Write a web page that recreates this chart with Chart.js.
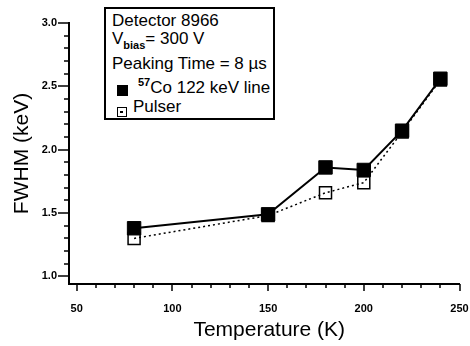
<!DOCTYPE html>
<html>
<head>
<meta charset="utf-8">
<script src="https://cdn.jsdelivr.net/npm/chart.js@4"></script>
<style>
  body { margin: 0; background: #fff; }
  #wrap { position: relative; width: 470px; height: 346px; font-family: Arial, 'Liberation Sans', sans-serif; color: #000; }
  #key { position: absolute; left: 104px; top: 7px; width: 167px; height: 109px; border: 2px solid #000; background: #fff; font-size: 17px; }
  #key .row { position: absolute; left: 6px; line-height: 20px; white-space: nowrap; }
  #key .sub { font-size: 11px; font-weight: bold; position: relative; top: 5px; }
  #key .sup { font-size: 11px; font-weight: bold; position: relative; top: -7px; }
  #key .mark { position: absolute; left: 11px; box-sizing: border-box; }
  #key .filled { top: 76px; width: 11px; height: 11px; background: #000; }
  #key .open { top: 98px; width: 10px; height: 10px; border: 1.5px solid #000; }
  #key .open::after { content: ''; position: absolute; left: 2px; top: 3px; width: 3px; height: 1.5px; background: #000; }
</style>
</head>
<body>
<div id="wrap">
  <canvas id="chart" width="470" height="346"></canvas>
  <div id="key">
    <div class="row" style="top: 2px;">Detector 8966</div>
    <div class="row" style="top: 20px;">V<span class="sub">bias</span>= 300 V</div>
    <div class="row" style="top: 45px;">Peaking Time = 8 µs</div>
    <span class="mark filled"></span>
    <div class="row" style="top: 69px; left: 32px;"><span class="sup">57</span>Co 122 keV line</div>
    <span class="mark open"></span>
    <div class="row" style="top: 88px; left: 27px;">Pulser</div>
  </div>
</div>
<script>
// temperature (K) and FWHM (keV)
const temps = [80, 150, 180, 200, 220, 240];
const co57Fwhm = [1.38, 1.49, 1.86, 1.84, 2.15, 2.56];
const pulserFwhm = [1.30, 1.48, 1.66, 1.74, 2.14, 2.55];

const xTicks = [50, 100, 150, 200, 250];
const yTicks = [1.0, 1.5, 2.0, 2.5, 3.0];
const xMinorPerMajor = 5;
const yMinorPerMajor = 5;
const xTitle = 'Temperature (K)';

const toPoints = (xs, ys) => xs.map((x, i) => ({ x: x, y: ys[i] }));

// minor + major tick marks drawn outside the axes, plus the x title
// (the title sits a bit right of the plot centre in the original)
const axisExtras = {
  id: 'axisExtras',
  afterDraw(chart) {
    const { ctx, chartArea } = chart;
    const xs = chart.scales.x;
    const ys = chart.scales.y;
    ctx.save();
    ctx.strokeStyle = '#000';
    ctx.lineWidth = 1.5;
    ctx.beginPath();

    for (let i = 0; i < xTicks.length - 1; i++) {
      const step = (xTicks[i + 1] - xTicks[i]) / xMinorPerMajor;
      for (let j = 0; j <= xMinorPerMajor; j++) {
        const px = Math.round(xs.getPixelForValue(xTicks[i] + j * step));
        const len = (j === 0 || j === xMinorPerMajor) ? 7 : 4;
        ctx.moveTo(px, chartArea.bottom);
        ctx.lineTo(px, chartArea.bottom + len);
      }
    }

    for (let i = 0; i < yTicks.length - 1; i++) {
      const step = (yTicks[i + 1] - yTicks[i]) / yMinorPerMajor;
      for (let j = 0; j <= yMinorPerMajor; j++) {
        const py = Math.round(ys.getPixelForValue(yTicks[i] + j * step));
        const len = (j === 0 || j === yMinorPerMajor) ? 11 : 5;
        ctx.moveTo(chartArea.left, py);
        ctx.lineTo(chartArea.left - len, py);
      }
    }
    ctx.stroke();

    ctx.fillStyle = '#000';
    ctx.font = '21px Arial';
    ctx.textAlign = 'center';
    ctx.textBaseline = 'alphabetic';
    ctx.fillText(xTitle, (chartArea.left + chartArea.right) / 2 + 5, chartArea.bottom + 52);
    ctx.restore();
  }
};

new Chart(document.getElementById('chart'), {
  type: 'scatter',
  data: {
    datasets: [
      {
        label: '57Co 122 keV line',
        data: toPoints(temps, co57Fwhm),
        showLine: true,
        borderColor: '#000',
        borderWidth: 2,
        pointStyle: 'rect',
        pointRadius: 9.5,
        pointBackgroundColor: '#000',
        pointBorderColor: '#000',
        pointBorderWidth: 1
      },
      {
        label: 'Pulser',
        data: toPoints(temps, pulserFwhm),
        showLine: true,
        borderColor: '#000',
        borderWidth: 1.5,
        borderDash: [2, 3],
        pointStyle: 'rect',
        pointRadius: 8.5,
        pointBackgroundColor: 'rgba(0,0,0,0)',
        pointBorderColor: '#000',
        pointBorderWidth: 1.5
      }
    ]
  },
  options: {
    responsive: false,
    animation: false,
    events: [],
    clip: false,
    layout: { padding: { top: 23, right: 7, left: 0, bottom: 0 } },
    plugins: {
      legend: { display: false },
      tooltip: { enabled: false }
    },
    scales: {
      x: {
        type: 'linear',
        min: 46,
        max: 250,
        afterBuildTicks: (s) => { s.ticks = xTicks.map((v) => ({ value: v })); },
        afterFit: (s) => { s.height = 62; s.paddingLeft = 0; s.paddingRight = 0; },
        grid: { display: false, drawTicks: false },
        border: { display: true, color: '#000', width: 2 },
        ticks: {
          padding: 18,
          color: '#000',
          maxRotation: 0,
          autoSkip: false,
          font: { family: 'Arial', size: 11, weight: 'bold' },
          callback: (v) => String(v)
        },
        title: { display: false }
      },
      y: {
        type: 'linear',
        min: 0.94,
        max: 3.0,
        afterBuildTicks: (s) => { s.ticks = yTicks.map((v) => ({ value: v })); },
        afterFit: (s) => { s.width = 69; },
        grid: { display: false, drawTicks: false },
        border: { display: true, color: '#000', width: 2 },
        ticks: {
          padding: 12,
          color: '#000',
          font: { family: 'Arial', size: 11, weight: 'bold' },
          callback: (v) => Number(v).toFixed(1)
        },
        title: {
          display: true,
          text: 'FWHM (keV)',
          color: '#000',
          font: { family: 'Arial', size: 21 },
          padding: { top: 10, bottom: 0 }
        }
      }
    }
  },
  plugins: [axisExtras]
});
</script>
</body>
</html>
